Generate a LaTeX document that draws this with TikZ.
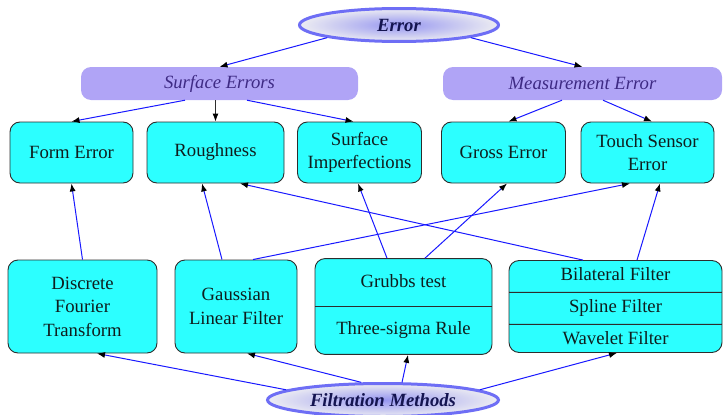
\documentclass[tikz,border=0pt]{standalone}
\usepackage{fontspec}
\setmainfont{Liberation Serif}
\usetikzlibrary{shapes.geometric, shapes.multipart}
\usetikzlibrary{arrows.meta}
\definecolor{boxcyan}{RGB}{44,255,255}
\definecolor{edgegray}{RGB}{45,45,45}
\definecolor{inkdark}{RGB}{15,30,30}
\definecolor{lavender}{RGB}{176,164,246}
\definecolor{lavtext}{RGB}{62,42,132}
\definecolor{linkblue}{RGB}{25,25,255}
\definecolor{ringblue}{RGB}{110,110,245}
\definecolor{ringin}{RGB}{150,150,240}
\definecolor{ringout}{RGB}{236,236,242}
\definecolor{navytext}{RGB}{20,20,80}
\newcommand{\diagfont}{\fontsize{18.7}{23.5}\selectfont}
\tikzstyle{topic} = [ellipse, minimum width=199pt, minimum height=33pt, inner sep=1pt, line width=3pt, draw=ringblue, inner color=ringin, outer color=ringout, text=navytext, font=\diagfont\bfseries\itshape]
\tikzstyle{group} = [rectangle, rounded corners=10pt, minimum width=277pt, minimum height=33pt, fill=lavender, text=lavtext, font=\diagfont\itshape]
\tikzstyle{errbox} = [rectangle, rounded corners=10pt, minimum height=61pt, align=center, draw=edgegray, line width=0.9pt, fill=boxcyan, text=inkdark, font=\diagfont]
\tikzstyle{method} = [errbox, minimum height=93pt]
\tikzstyle{splitbox} = [rectangle split, rectangle split parts=2, rounded corners=10pt, draw=edgegray, line width=0.9pt, fill=boxcyan, text=inkdark, font=\diagfont, text height=13pt, text depth=4pt, inner ysep=15pt]
\tikzstyle{arrow} = [draw=linkblue, line width=1pt, -{Latex[length=8pt, width=6pt, color=black]}]

\begin{document}
\begin{tikzpicture}[x=1pt, y=-1pt, node distance=144pt]
			\useasboundingbox (0,0) rectangle (723,415);
			\node(error)[topic] at (399,25) {Error};
			\node(surf)[group] at (219.5,83.5) {Surface Errors};
			\node(meas)[group, minimum width=279pt] at (582.5,83.5) {Measurement Error};

			\node(form)[errbox, minimum width=123pt] at (71.5,152.5) {Form Error};
			\node(rough)[errbox, right of=form, minimum width=137pt] {Roughness};
			\node(imperf)[errbox, right of=rough, minimum width=124pt] {Surface\\Imperfections};
			\node(gross)[errbox, right of=imperf, minimum width=124pt] {Gross Error};
			\node(touch)[errbox, right of=gross, minimum width=133pt] {Touch Sensor\\Error};

			\node(dft)[method, minimum width=149pt] at (82.5,306.5) {Discrete\\Fourier\\Transform};
			\node(gauss)[method, minimum width=122pt] at (236,306.5) {Gaussian\\Linear Filter};
			\node(grubbs)[splitbox, minimum width=177pt] at (403.5,306.5) {Grubbs test\nodepart{two}Three-sigma Rule};
			\node(bil)[splitbox, rectangle split parts=3, minimum width=213pt, inner ysep=7pt] at (615.5,306.5) {Bilateral Filter\nodepart{two}Spline Filter\nodepart{three}Wavelet Filter};
			\node(filt)[topic, minimum width=231pt] at (383,400) {Filtration Methods};

			\draw [arrow] (error.190) -- (surf.north);
			\draw [arrow] (error.-10) -- (meas.north);
			\draw [arrow] ([xshift=-34.5pt]surf.south) -- (form.north);
			\draw [arrow, draw=edgegray] (rough.north |- surf.south) -- (rough.north);
			\draw [arrow] ([xshift=27.5pt]surf.south) -- ([xshift=-6pt]imperf.north);
			\draw [arrow] ([xshift=-20.5pt]meas.south) -- ([xshift=5pt]gross.north);
			\draw [arrow] ([xshift=20.5pt]meas.south) -- ([xshift=4.5pt]touch.north);

			\draw [arrow] (dft.north) -- (form.south);
			\draw [arrow] ([xshift=-14pt]gauss.north) -- ([xshift=-13.5pt]rough.south);
			\draw [arrow] ([xshift=17pt]gauss.north) -- ([xshift=-17.5pt]touch.south);
			\draw [arrow] ([xshift=-16.5pt]grubbs.north) -- ([xshift=-1.5pt]imperf.south);
			\draw [arrow] ([xshift=21.5pt]grubbs.north) -- ([xshift=3.5pt]gross.south);
			\draw [arrow] ([xshift=-32.5pt]bil.north) -- ([xshift=24.5pt]rough.south);
			\draw [arrow] ([xshift=21.5pt]bil.north) -- ([xshift=12.5pt]touch.south);

			% Filtration
			\draw [arrow] (filt.174) -- ([xshift=14.5pt]dft.south);
			\draw [arrow] (filt.141) -- ([xshift=11pt]gauss.south);
			\draw [arrow] (filt.43) -- ([xshift=4.5pt]grubbs.south);
			\draw [arrow] (filt.6) -- ([xshift=1.5pt]bil.south);
		\end{tikzpicture}
\end{document}
